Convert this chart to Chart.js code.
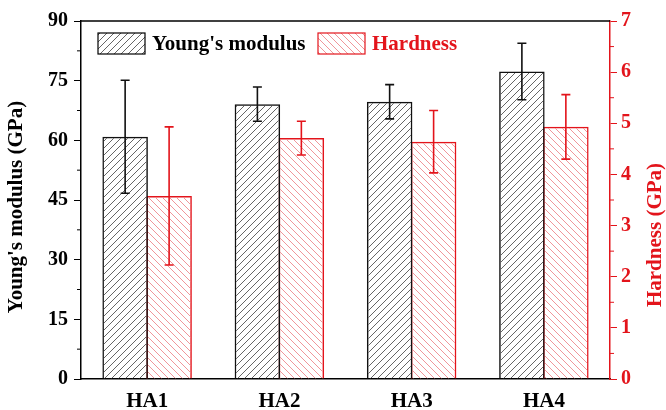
<!DOCTYPE html>
<html>
<head>
<meta charset="utf-8">
<script src="https://cdn.jsdelivr.net/npm/chart.js@4.4.0/dist/chart.umd.min.js"></script>
<style>
	html, body { margin: 0; padding: 0; background: #fff; }
</style>
</head>
<body>
<canvas id="chart" width="666" height="410"></canvas>
<script>
const categories = ["HA1", "HA2", "HA3", "HA4"];
const youngs = [60.9, 69.1, 69.7, 77.3];
const youngsErr = [14.2, 4.3, 4.3, 7.1];
const hardness = [3.58, 4.71, 4.64, 4.93];
const hardnessErr = [1.35, 0.33, 0.61, 0.63];

const RED = "#e3141b";
const FONT = "Liberation Serif";

function hatch(color, forward) {
	const size = 7;
	const c = document.createElement("canvas");
	c.width = size;
	c.height = size;
	const g = c.getContext("2d");
	g.strokeStyle = color;
	g.lineWidth = 0.9;
	g.beginPath();
	for (let k = -1; k <= 1; k++) {
		if (forward) {
			g.moveTo(k * size, size);
			g.lineTo(k * size + size, 0);
		} else {
			g.moveTo(k * size, 0);
			g.lineTo(k * size + size, size);
		}
	}
	g.stroke();
	return g.createPattern(c, "repeat");
}

const blackHatch = hatch("#555", true);
const redHatch = hatch("#ee8a8e", false);

// error bars
const errorBars = {
	id: "errorBars",
	afterDatasetsDraw(chart) {
		const ctx = chart.ctx;
		chart.data.datasets.forEach((ds, i) => {
			const meta = chart.getDatasetMeta(i);
			const scale = chart.scales[ds.yAxisID];
			ctx.save();
			ctx.strokeStyle = ds.errColor;
			ctx.lineWidth = 1.6;
			meta.data.forEach((bar, j) => {
				const v = ds.data[j];
				const e = ds.errors[j];
				const top = scale.getPixelForValue(v + e);
				const bot = scale.getPixelForValue(v - e);
				ctx.beginPath();
				ctx.moveTo(bar.x, top);
				ctx.lineTo(bar.x, bot);
				ctx.moveTo(bar.x - 4.5, top);
				ctx.lineTo(bar.x + 4.5, top);
				ctx.moveTo(bar.x - 4.5, bot);
				ctx.lineTo(bar.x + 4.5, bot);
				ctx.stroke();
			});
			ctx.restore();
		});
	},
};

function verticalText(ctx, text, x, y, color) {
	ctx.save();
	ctx.fillStyle = color;
	ctx.font = `bold 21px ${FONT}`;
	ctx.textAlign = "center";
	ctx.textBaseline = "middle";
	ctx.translate(x, y);
	ctx.rotate(-Math.PI / 2);
	ctx.fillText(text, 0, 0);
	ctx.restore();
}

// frame top, minor ticks, axis titles and legend
const decorations = {
	id: "decorations",
	afterDraw(chart) {
		const ctx = chart.ctx;
		const area = chart.chartArea;
		ctx.save();
		ctx.strokeStyle = "#000";
		ctx.lineWidth = 1.5;
		ctx.beginPath();
		ctx.moveTo(area.left, area.top);
		ctx.lineTo(area.right, area.top);
		ctx.stroke();

		const y = chart.scales.y;
		ctx.lineWidth = 1;
		ctx.beginPath();
		for (let v = 7.5; v < 90; v += 15) {
			const p = y.getPixelForValue(v);
			ctx.moveTo(area.left, p);
			ctx.lineTo(area.left - 4, p);
		}
		ctx.stroke();

		const y1 = chart.scales.y1;
		ctx.strokeStyle = RED;
		ctx.beginPath();
		for (let v = 0.5; v < 7; v += 1) {
			const p = y1.getPixelForValue(v);
			ctx.moveTo(area.right, p);
			ctx.lineTo(area.right + 4, p);
		}
		ctx.stroke();
		ctx.restore();

		verticalText(ctx, "Young's modulus (GPa)", 17, 207, "#000");
		verticalText(ctx, "Hardness (GPa)", 656, 235, RED);

		ctx.save();
		ctx.font = `bold 21px ${FONT}`;
		ctx.textBaseline = "middle";
		const items = [
			{ x: area.left + 17, text: "Young's modulus", fill: blackHatch, color: "#000" },
			{ x: area.left + 237, text: "Hardness", fill: redHatch, color: RED },
		];
		items.forEach((it) => {
			ctx.fillStyle = it.fill;
			ctx.fillRect(it.x, area.top + 12, 47, 21);
			ctx.strokeStyle = it.color;
			ctx.lineWidth = 1.2;
			ctx.strokeRect(it.x, area.top + 12, 47, 21);
			ctx.fillStyle = it.color;
			ctx.fillText(it.text, it.x + 54, area.top + 24);
		});
		ctx.restore();
	},
};

new Chart(document.getElementById("chart"), {
	type: "bar",
	data: {
		labels: categories,
		datasets: [
			{
				label: "Young's modulus",
				data: youngs,
				errors: youngsErr,
				errColor: "#111",
				yAxisID: "y",
				backgroundColor: blackHatch,
				borderColor: "#111",
				borderWidth: 1.5,
			},
			{
				label: "Hardness",
				data: hardness,
				errors: hardnessErr,
				errColor: RED,
				yAxisID: "y1",
				backgroundColor: redHatch,
				borderColor: RED,
				borderWidth: 1.5,
			},
		],
	},
	options: {
		responsive: false,
		animation: false,
		layout: { padding: { top: 21, left: 0, right: 0, bottom: 0 } },
		categoryPercentage: 0.665,
		barPercentage: 1.035,
		plugins: {
			legend: { display: false },
			tooltip: { enabled: false },
		},
		scales: {
			x: {
				grid: { display: false, drawTicks: false },
				border: { color: "#000", width: 1.5 },
				ticks: { color: "#000", font: { family: FONT, weight: "bold", size: 21 }, padding: 10 },
				afterFit: (s) => { s.height = 31; },
			},
			y: {
				position: "left",
				min: 0,
				max: 90,
				ticks: { stepSize: 15, color: "#000", font: { family: FONT, weight: "bold", size: 20 }, padding: 6 },
				grid: { drawOnChartArea: false, tickLength: 7, tickColor: "#000", tickWidth: 1 },
				border: { color: "#000", width: 1.5 },
				afterFit: (s) => { s.width = 81; },
			},
			y1: {
				position: "right",
				min: 0,
				max: 7,
				ticks: { stepSize: 1, color: RED, font: { family: FONT, weight: "bold", size: 20 }, padding: 4 },
				grid: { drawOnChartArea: false, tickLength: 7, tickColor: RED, tickWidth: 1 },
				border: { color: RED, width: 1.5 },
				afterFit: (s) => { s.width = 56; },
			},
		},
	},
	plugins: [errorBars, decorations],
});
</script>
</body>
</html>
